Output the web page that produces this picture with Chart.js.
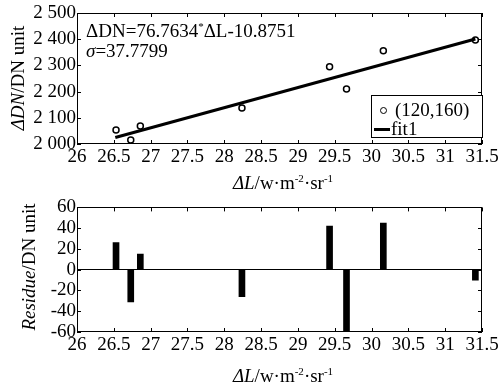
<!DOCTYPE html>
<html>
<head>
<meta charset="utf-8">
<script src="https://cdn.jsdelivr.net/npm/chart.js@4.4.0/dist/chart.umd.min.js"></script>
<style>
  body { margin: 0; background: #fff; width: 501px; height: 389px; overflow: hidden; position: relative;
         font-family: "Liberation Serif", "Times New Roman", serif; color: #000; }
  canvas { position: absolute; left: 0; }
  #top { top: 0; }
  #bottom { top: 195px; }
  .txt { position: absolute; white-space: nowrap; font-size: 19px; line-height: 1; }
  .rot { transform: translate(-50%, -50%) rotate(-90deg); }
  .ctr { transform: translate(-50%, -50%); }
  sup { font-size: 11px; vertical-align: 7px; }
  #legend { position: absolute; left: 371px; top: 95px; width: 110px; height: 41px; border: 1px solid #000;
            background: #fff; font-size: 19px; line-height: 1; }
  #legend div { position: absolute; left: 0; white-space: nowrap; }
  .dot { display: inline-block; width: 5px; height: 5px; border: 1.5px solid #000; border-radius: 50%;
         margin: 0 8px 2px 8px; vertical-align: middle; }
  .dash { display: inline-block; width: 16px; height: 3px; background: #000; margin: 0 1px 3px 2px; vertical-align: middle; }
</style>
</head>
<body>
<canvas id="top" width="501" height="195"></canvas>
<canvas id="bottom" width="501" height="194"></canvas>

<div class="txt rot" style="left:17px; top:78px;"><i>ΔDN</i>/DN unit</div>
<div class="txt ctr" style="left:283px; top:182px;"><i>ΔL</i>/w·m<sup>-2</sup>·sr<sup>-1</sup></div>
<div class="txt" style="left:86px; top:21px;">ΔDN=76.7634<sup>*</sup>ΔL-10.8751</div>
<div class="txt" style="left:86px; top:41px;"><i>σ</i>=37.7799</div>
<div id="legend"></div>

<div class="txt rot" style="left:28px; top:267px;"><i>Residue</i>/DN unit</div>
<div class="txt ctr" style="left:283px; top:375px;"><i>ΔL</i>/w·m<sup>-2</sup>·sr<sup>-1</sup></div>

<script>
// values
const radiance = [26.53, 26.73, 26.86, 28.24, 29.43, 29.66, 30.16, 31.41];
const deltaDN = [2053, 2015, 2069, 2137, 2295, 2210, 2356, 2397];
const fitX = [26.52, 31.41];
const fitY = [2025, 2401];
const residue = [26, -31, 15, -26, 42, -62, 45, -10];

const xMin = 26, xMax = 31.5, xStep = 0.5;
const dnMin = 2000, dnMax = 2500, dnStep = 100;
const resMin = -60, resMax = 60, resStep = 20;

const serif = '"Liberation Serif", "Times New Roman", serif';
Chart.defaults.font.family = serif;
Chart.defaults.font.size = 19;
Chart.defaults.color = '#000';

// box round the plot with matlab-like inward ticks
const frame = {
  id: 'frame',
  afterDraw(chart) {
    const { ctx, chartArea: a, scales: { x, y } } = chart;
    const len = 4;
    ctx.save();
    ctx.strokeStyle = '#000';
    ctx.lineWidth = 1;
    ctx.strokeRect(Math.round(a.left) + 0.5, Math.round(a.top) + 0.5,
                   Math.round(a.width) - 1, Math.round(a.height) - 1);
    ctx.beginPath();
    x.ticks.forEach(t => {
      const p = Math.round(x.getPixelForValue(t.value)) + 0.5;
      ctx.moveTo(p, a.bottom); ctx.lineTo(p, a.bottom - len);
      ctx.moveTo(p, a.top); ctx.lineTo(p, a.top + len);
    });
    y.ticks.forEach(t => {
      const p = Math.round(y.getPixelForValue(t.value)) + 0.5;
      ctx.moveTo(a.left, p); ctx.lineTo(a.left + len, p);
      ctx.moveTo(a.right, p); ctx.lineTo(a.right - len, p);
    });
    ctx.stroke();
    ctx.restore();
  }
};

function xScale(height) {
  return {
    type: 'linear', min: xMin, max: xMax, offset: false,
    grid: { display: false, drawTicks: false, offset: false },
    border: { display: false },
    ticks: {
      stepSize: xStep, autoSkip: false, maxRotation: 0, padding: 2,
      callback: v => String(Math.round(v * 10) / 10)
    },
    afterFit(s) { s.height = height; }
  };
}

new Chart(document.getElementById('top'), {
  type: 'scatter',
  data: {
    datasets: [
      {
        label: '(120,160)',
        data: radiance.map((v, i) => ({ x: v, y: deltaDN[i] })),
        pointStyle: 'circle', pointRadius: 3, borderColor: '#000', borderWidth: 1.5,
        backgroundColor: 'rgba(0,0,0,0)'
      },
      {
        label: 'fit1', type: 'line',
        data: fitX.map((v, i) => ({ x: v, y: fitY[i] })),
        borderColor: '#000', borderWidth: 3, pointRadius: 0, fill: false
      }
    ]
  },
  options: {
    responsive: false, animation: false, devicePixelRatio: 1,
    layout: { padding: { left: 0, top: 13, right: 19, bottom: 0 } },
    plugins: { legend: { display: false }, tooltip: { enabled: false } },
    scales: {
      x: xScale(51),
      y: {
        min: dnMin, max: dnMax,
        grid: { display: false, drawTicks: false },
        border: { display: false },
        ticks: {
          stepSize: dnStep, padding: 1, autoSkip: false,
          callback: v => String(v).replace(/(\d)(\d{3})$/, '$1 $2')
        },
        afterFit(s) { s.width = 77; }
      }
    }
  },
  plugins: [frame]
});

// legend built from the dataset labels
document.getElementById('legend').innerHTML =
  '<div style="top:4px"><span class="dot"></span>(120,160)</div>' +
  '<div style="top:23px"><span class="dash"></span>fit1</div>';

new Chart(document.getElementById('bottom'), {
  type: 'bar',
  data: {
    datasets: [{
      label: 'residue',
      data: radiance.map((v, i) => ({ x: v, y: residue[i] })),
      backgroundColor: '#000', borderWidth: 0, barThickness: 6
    }]
  },
  options: {
    responsive: false, animation: false, devicePixelRatio: 1,
    layout: { padding: { left: 0, top: 10, right: 19, bottom: 0 } },
    plugins: { legend: { display: false }, tooltip: { enabled: false } },
    scales: {
      x: xScale(57),
      y: {
        min: resMin, max: resMax,
        grid: {
          drawTicks: false,
          color: c => c.tick && c.tick.value === 0 ? '#000' : 'rgba(0,0,0,0)',
          lineWidth: 1
        },
        border: { display: false },
        ticks: { stepSize: resStep, padding: 1, autoSkip: false },
        afterFit(s) { s.width = 77; }
      }
    }
  },
  plugins: [frame]
});
</script>
</body>
</html>
